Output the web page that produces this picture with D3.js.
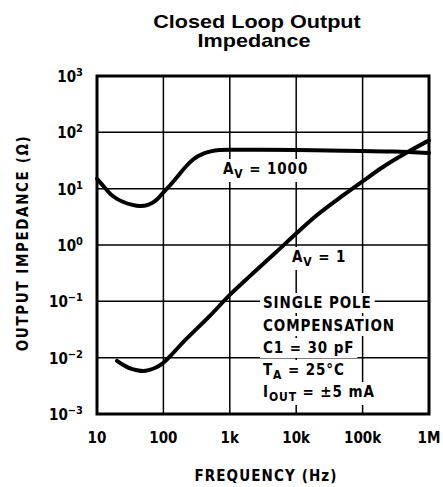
<!DOCTYPE html>
<html>
<head>
<meta charset="utf-8">
<script src="https://cdn.jsdelivr.net/npm/d3@7"></script>
<style>
  html, body { margin: 0; padding: 0; background: #fff; }
  svg { display: block; }
  .title { font-family: "Liberation Sans", Arial, sans-serif; font-weight: bold; font-size: 18px; }
  .lbl { font-family: "DejaVu Sans Condensed", "DejaVu Sans", sans-serif; font-weight: bold; font-stretch: condensed; }
</style>
</head>
<body>
<svg id="chart" width="443" height="487"></svg>
<script>
// ---- data ----
const xTickValues = [10, 100, 1000, 10000, 100000, 1000000];
const xTickLabels = ["10", "100", "1k", "10k", "100k", "1M"];
const yTickValues = [1e-3, 1e-2, 1e-1, 1, 10, 100, 1000];
const yTickExponents = ["-3", "-2", "-1", "0", "1", "2", "3"];

const av1000Freq = [10, 13, 16, 20, 25, 33, 45, 60, 80, 100, 130, 160, 220, 280, 400, 500, 700, 1000, 3000, 10000, 30000, 100000, 300000, 1000000];
const av1000Z    = [15, 10.5, 8, 6.6, 5.8, 5.2, 4.9, 5.2, 6.4, 8.6, 12, 16, 25, 33, 42, 45.5, 48.5, 49, 49, 48.5, 47.5, 46.5, 45.5, 43];

const av1Freq = [20, 25, 30, 40, 50, 60, 80, 100, 130, 200, 500, 1000, 2000, 5000, 10000, 20000, 50000, 100000, 200000, 500000, 1000000];
const av1Z    = [0.0088, 0.0074, 0.0066, 0.006, 0.0058, 0.006, 0.0068, 0.0081, 0.011, 0.019, 0.055, 0.13, 0.28, 0.75, 1.6, 3.3, 7.5, 13.5, 24, 46, 72];

// ---- layout ----
const svg = d3.select("#chart");
const x = d3.scaleLog().domain([10, 1e6]).range([97, 429]);
const y = d3.scaleLog().domain([1e-3, 1e3]).range([414, 76]);

// title
svg.append("text").attr("class", "title").attr("transform", "translate(257,28) scale(1.2,1)")
  .attr("text-anchor", "middle").text("Closed Loop Output");
svg.append("text").attr("class", "title").attr("transform", "translate(254,47) scale(1.2,1)")
  .attr("text-anchor", "middle").text("Impedance");

// grid
const grid = svg.append("g");
grid.selectAll("line.v").data(xTickValues.slice(1, -1)).enter().append("line")
  .attr("x1", d => x(d)).attr("x2", d => x(d))
  .attr("y1", y(1e3)).attr("y2", y(1e-3))
  .attr("stroke", "#000").attr("stroke-width", 1.5);
grid.selectAll("line.h").data(yTickValues.slice(1, -1)).enter().append("line")
  .attr("y1", d => y(d)).attr("y2", d => y(d))
  .attr("x1", x(10)).attr("x2", x(1e6))
  .attr("stroke", "#000").attr("stroke-width", 1.5);

// curves
const line = d3.line().x(d => x(d[0])).y(d => y(d[1])).curve(d3.curveMonotoneX);
const curveG = svg.append("g");
curveG.append("path").datum(d3.zip(av1000Freq, av1000Z)).attr("d", line)
  .attr("fill", "none").attr("stroke", "#000").attr("stroke-width", 4).attr("stroke-linecap", "round");
curveG.append("path").datum(d3.zip(av1Freq, av1Z)).attr("d", line)
  .attr("fill", "none").attr("stroke", "#000").attr("stroke-width", 4).attr("stroke-linecap", "round");

// labels with white backgrounds
const ann = svg.append("g");
function label(xp, yp, parts, size) {
  const g = ann.append("g");
  const rect = g.append("rect").attr("fill", "#fff");
  const t = g.append("text").attr("class", "lbl").attr("x", xp).attr("y", yp)
    .attr("font-size", size).attr("letter-spacing", "0.9px");
  parts.forEach(p => {
    const ts = t.append("tspan").text(p.t);
    if (p.sub) ts.attr("font-size", size * 0.8).attr("dy", 4);
    if (p.up) ts.attr("dy", -4);
  });
  const bb = t.node().getBBox();
  rect.attr("x", bb.x - 3).attr("y", bb.y - 1).attr("width", bb.width + 6).attr("height", bb.height + 2);
  return g;
}
label(223, 174, [{t: "A"}, {t: "V", sub: true}, {t: " = 1000", up: true}], 15);
label(292, 262, [{t: "A"}, {t: "V", sub: true}, {t: " = 1", up: true}], 15);
label(263, 308, [{t: "SINGLE POLE"}], 15);
label(263, 331, [{t: "COMPENSATION"}], 15);
label(263, 353, [{t: "C1 = 30 pF"}], 15);
label(263, 375, [{t: "T"}, {t: "A", sub: true}, {t: " = 25°C", up: true}], 15);
label(263, 397, [{t: "I"}, {t: "OUT", sub: true}, {t: " = ±5 mA", up: true}], 15);

// frame
svg.append("rect").attr("x", x(10)).attr("y", y(1e3))
  .attr("width", x(1e6) - x(10)).attr("height", y(1e-3) - y(1e3))
  .attr("fill", "none").attr("stroke", "#000").attr("stroke-width", 3);

// x tick labels
svg.append("g").selectAll("text").data(xTickValues).enter().append("text")
  .attr("class", "lbl").attr("font-size", 15)
  .attr("x", d => x(d)).attr("y", 443).attr("text-anchor", "middle")
  .text((d, i) => xTickLabels[i]);

// y tick labels
const yl = svg.append("g").selectAll("text").data(yTickValues).enter().append("text")
  .attr("class", "lbl").attr("font-size", 15)
  .attr("x", 83).attr("y", d => y(d) + 6).attr("text-anchor", "end");
yl.append("tspan").text("10");
yl.append("tspan").attr("dy", -6).attr("font-size", 11).text((d, i) => yTickExponents[i].replace("-", "\u2212"));

// axis titles
svg.append("text").attr("class", "lbl").attr("font-size", 15).attr("letter-spacing", "1.1px")
  .attr("x", 266).attr("y", 481).attr("text-anchor", "middle").text("FREQUENCY (Hz)");
svg.append("text").attr("class", "lbl").attr("font-size", 15).attr("letter-spacing", "1.6px")
  .attr("transform", "translate(28,243) rotate(-90)").attr("text-anchor", "middle")
  .text("OUTPUT IMPEDANCE (\u03A9)");
</script>
</body>
</html>
